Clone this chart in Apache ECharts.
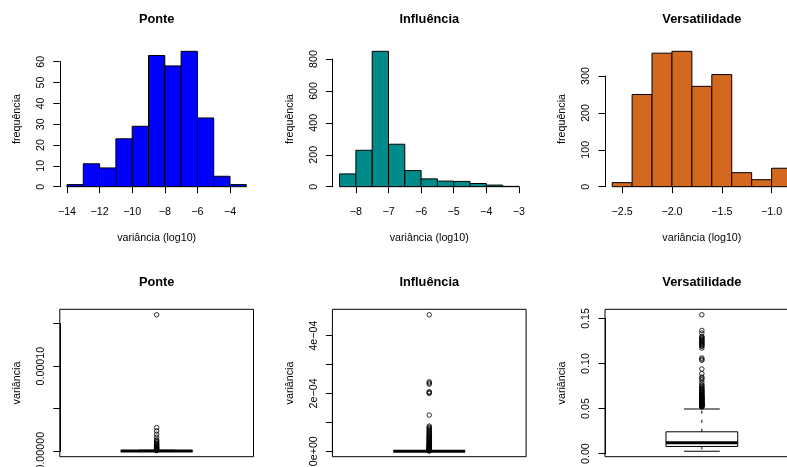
<!DOCTYPE html>
<html>
<head>
<meta charset="utf-8">
<title>Variância</title>
<script src="https://cdn.jsdelivr.net/npm/echarts@6/dist/echarts.min.js"></script>
<style>
  html, body { margin: 0; padding: 0; background: #fff; }
  #chart { width: 787px; height: 467px; }
</style>
</head>
<body>
<div id="chart"></div>
<script>
const FONT = '"Liberation Sans", Arial, Helvetica, sans-serif'

// histogramas do log10 da variância
const ponteBreaks = [-14, -13, -12, -11, -10, -9, -8, -7, -6, -5, -4, -3]
const ponteCounts = [1, 11, 9, 23, 29, 63, 58, 65, 33, 5, 1]
const influenciaBreaks = [-8.5, -8, -7.5, -7, -6.5, -6, -5.5, -5, -4.5, -4, -3.5, -3]
const influenciaCounts = [80, 228, 848, 266, 101, 49, 35, 33, 20, 10, 2]
const versatilidadeBreaks = [-2.6, -2.4, -2.2, -2.0, -1.8, -1.6, -1.4, -1.2, -1.0, -0.8]
const versatilidadeCounts = [11, 250, 362, 367, 272, 304, 38, 19, 50]

// ticks dos histogramas
const ponteXTicks = [-14, -12, -10, -8, -6, -4]
const ponteXLabels = ['−14', '−12', '−10', '−8', '−6', '−4']
const ponteYTicks = [0, 10, 20, 30, 40, 50, 60]
const ponteYLabels = ['0', '10', '20', '30', '40', '50', '60']
const influenciaXTicks = [-8, -7, -6, -5, -4, -3]
const influenciaXLabels = ['−8', '−7', '−6', '−5', '−4', '−3']
const influenciaYTicks = [0, 200, 400, 600, 800]
const influenciaYLabels = ['0', '200', '400', '600', '800']
const versatilidadeXTicks = [-2.5, -2.0, -1.5, -1.0]
const versatilidadeXLabels = ['−2.5', '−2.0', '−1.5', '−1.0']
const versatilidadeYTicks = [0, 100, 200, 300]
const versatilidadeYLabels = ['0', '100', '200', '300']

// boxplots: [min, q1, mediana, q3, max]
const ponteBox = [0, 0.0000001, 0.0000002, 0.0000005, 0.0000012]
const ponteOutliers = [0.0001604, 0.0000278, 0.0000238, 0.0000200, 0.0000165, 0.0000135, 0.0000122,
  0.0000110, 0.0000098, 0.0000087, 0.0000077, 0.0000068, 0.0000059, 0.0000051, 0.0000043,
  0.0000036, 0.0000029, 0.0000023, 0.0000017, 0.0000012, 0.0000008]
const ponteBoxTicks = [0, 0.00005, 0.0001, 0.00015]
const ponteBoxLabels = ['0.00000', '', '0.00010', '']

const influenciaBox = [0, 0.0000001, 0.0000003, 0.0000008, 0.0000019]
const influenciaOutliers = [0.000472, 0.000240, 0.000236, 0.000232, 0.000206, 0.000203, 0.000200,
  0.000125, 0.000087, 0.000083, 0.000080, 0.000076, 0.000073, 0.000069, 0.000066, 0.000063,
  0.000060, 0.000057, 0.000055, 0.000052, 0.000050, 0.000048, 0.000046, 0.000044, 0.000042,
  0.000040, 0.000038, 0.000036, 0.000034, 0.000032, 0.000030, 0.000028, 0.000027, 0.000025,
  0.000024, 0.000022, 0.000021, 0.000019, 0.000018, 0.000016, 0.000015, 0.000013, 0.000012,
  0.000011, 0.000010, 0.000009, 0.000008, 0.000007, 0.000006, 0.000005, 0.000004, 0.000003,
  0.000002, 0.000001]
const influenciaBoxTicks = [0, 0.0001, 0.0002, 0.0003, 0.0004]
const influenciaBoxLabels = ['0e+00', '', '2e−04', '', '4e−04']

const versatilidadeBox = [0.0026, 0.0079, 0.0119, 0.0242, 0.0495]
const versatilidadeOutliers = [0.1541, 0.1367, 0.1338, 0.1301, 0.1292, 0.1282, 0.1273, 0.1264,
  0.1255, 0.1245, 0.1236, 0.1227, 0.1218, 0.1208, 0.1199, 0.1190, 0.1171, 0.1061, 0.1048,
  0.1035, 0.0939, 0.0887, 0.0850, 0.0835, 0.0820, 0.0791, 0.0765, 0.0752, 0.0739, 0.0730,
  0.0720, 0.0710, 0.0700, 0.0692, 0.0685, 0.0678, 0.0670, 0.0662, 0.0655, 0.0648, 0.0640,
  0.0635, 0.0630, 0.0625, 0.0620, 0.0615, 0.0610, 0.0605, 0.0600, 0.0595, 0.0590, 0.0585,
  0.0580, 0.0575, 0.0570, 0.0566, 0.0562, 0.0558, 0.0555, 0.0551, 0.0548, 0.0544, 0.0540,
  0.0536, 0.0532, 0.0528, 0.0525, 0.0521, 0.0518]
const versatilidadeBoxTicks = [0, 0.05, 0.10, 0.15]
const versatilidadeBoxLabels = ['0.00', '0.05', '0.10', '0.15']

// layout (regiões de plot, px)
const COLS = [59.8, 332.4, 605.0]
const PLOT_W = 193.7
const TOP_ROW = { top: 45.9, height: 146.2, titleTop: 13 }
const BOTTOM_ROW = { top: 309.3, height: 147.4, titleTop: 276 }
const BASE_SIZE = 10.7
const TITLE_SIZE = 12.8

const grid = []
const xAxis = []
const yAxis = []
const series = []
const title = []

const textStyle = { color: '#000', fontSize: BASE_SIZE, fontFamily: FONT }

function labelFor (ticks, labels) {
  return function (v) {
    const step = ticks.length > 1 ? Math.abs(ticks[1] - ticks[0]) : 1
    const i = ticks.findIndex(t => Math.abs(t - v) < step * 1e-6)
    return i < 0 ? '' : labels[i]
  }
}

function hiddenAxis (gridIndex, min, max, extra) {
  return Object.assign({
    gridIndex,
    type: 'value',
    min,
    max,
    axisLine: { show: false },
    axisTick: { show: false },
    axisLabel: { show: false },
    splitLine: { show: false }
  }, extra)
}

function shownAxis (gridIndex, ticks, labels, extra, labelExtra) {
  return Object.assign({
    gridIndex,
    type: 'value',
    min: ticks[0],
    max: ticks[ticks.length - 1],
    interval: ticks[1] - ticks[0],
    axisLine: { show: true, lineStyle: { color: '#000', width: 1 } },
    axisTick: { show: true, length: 6.5, lineStyle: { color: '#000', width: 1 } },
    axisLabel: Object.assign({
      show: true,
      showMinLabel: true,
      showMaxLabel: true,
      formatter: labelFor(ticks, labels)
    }, textStyle, labelExtra),
    splitLine: { show: false }
  }, extra)
}

function addTitle (text, col, row) {
  title.push({
    text,
    left: COLS[col] + PLOT_W / 2,
    top: row.titleTop,
    textAlign: 'center',
    padding: 0,
    textStyle: { color: '#000', fontSize: TITLE_SIZE, fontWeight: 'bold', fontFamily: FONT }
  })
}

function histPanel (col, name, breaks, counts, color, xTicks, xLabels, yTicks, yLabels) {
  const row = TOP_ROW
  const left = COLS[col]
  const bottom = row.top + row.height
  const xr = breaks[breaks.length - 1] - breaks[0]
  const xMin = breaks[0] - 0.04 * xr
  const xMax = breaks[breaks.length - 1] + 0.04 * xr
  const yMaxData = Math.max(...counts)
  const yMin = -0.04 * yMaxData
  const yMax = yMaxData * 1.04
  const px = v => left + (v - xMin) / (xMax - xMin) * PLOT_W
  const py = v => row.top + (yMax - v) / (yMax - yMin) * row.height

  const gA = grid.length
  grid.push({ left, top: row.top, width: PLOT_W, height: row.height, containLabel: false, outerBoundsMode: 'none' })
  const x0 = px(xTicks[0])
  const x1 = px(xTicks[xTicks.length - 1])
  const yTop = py(yTicks[yTicks.length - 1])
  const yZero = py(0)
  grid.push({ left: x0, top: yTop, width: x1 - x0, height: yZero - yTop, containLabel: false, outerBoundsMode: 'none' })

  xAxis.push(hiddenAxis(gA, xMin, xMax, {
    name: 'variância (log10)', nameLocation: 'middle', nameGap: 40, nameTextStyle: textStyle
  }))
  yAxis.push(hiddenAxis(gA, yMin, yMax, {
    name: 'frequência', nameLocation: 'middle', nameGap: 37, nameRotate: 90, nameTextStyle: textStyle
  }))
  xAxis.push(shownAxis(gA + 1, xTicks, xLabels, { position: 'bottom', offset: bottom - yZero }, { margin: 14 }))
  yAxis.push(shownAxis(gA + 1, yTicks, yLabels, { position: 'left', offset: x0 - left }, { margin: 13, rotate: 90 }))

  const data = counts.map((c, i) => [breaks[i], breaks[i + 1], c])
  series.push({
    type: 'custom',
    name,
    xAxisIndex: gA,
    yAxisIndex: gA,
    data,
    encode: { x: [0, 1], y: 2 },
    clip: false,
    silent: true,
    renderItem (params, api) {
      const p0 = api.coord([api.value(0), api.value(2)])
      const p1 = api.coord([api.value(1), 0])
      return {
        type: 'rect',
        shape: { x: p0[0], y: p0[1], width: p1[0] - p0[0], height: p1[1] - p0[1] },
        style: { fill: color, stroke: '#000', lineWidth: 1 }
      }
    }
  })
  addTitle(name, col, row)
}

function boxPanel (col, name, stats, outliers, ticks, labels) {
  const row = BOTTOM_ROW
  const left = COLS[col]
  const all = stats.concat(outliers)
  const lo = Math.min(...all)
  const hi = Math.max(...all)
  const yMin = lo - 0.04 * (hi - lo)
  const yMax = hi + 0.04 * (hi - lo)
  const py = v => row.top + (yMax - v) / (yMax - yMin) * row.height

  const gA = grid.length
  grid.push({
    left, top: row.top, width: PLOT_W, height: row.height, containLabel: false, outerBoundsMode: 'none',
    show: true, borderColor: '#000', borderWidth: 1, backgroundColor: 'transparent'
  })
  const yTop = py(ticks[ticks.length - 1])
  const yZero = py(ticks[0])
  grid.push({ left, top: yTop, width: PLOT_W, height: yZero - yTop, containLabel: false, outerBoundsMode: 'none' })

  xAxis.push(hiddenAxis(gA, 0.46, 1.54))
  yAxis.push(hiddenAxis(gA, yMin, yMax, {
    name: 'variância', nameLocation: 'middle', nameGap: 37, nameRotate: 90, nameTextStyle: textStyle
  }))
  xAxis.push(hiddenAxis(gA + 1, 0.46, 1.54, { show: false }))
  yAxis.push(shownAxis(gA + 1, ticks, labels, { position: 'left' }, { margin: 13, rotate: 90 }))

  series.push({
    type: 'custom',
    name,
    xAxisIndex: gA,
    yAxisIndex: gA,
    data: [[1].concat(stats)],
    encode: { x: 0, y: [1, 2, 3, 4, 5] },
    clip: false,
    silent: true,
    renderItem (params, api) {
      const x = api.value(0)
      const v = [1, 2, 3, 4, 5].map(i => api.value(i))
      const pt = (dx, val) => api.coord([x + dx, val])
      const line = (a, b, extra) => ({
        type: 'line',
        shape: { x1: a[0], y1: a[1], x2: b[0], y2: b[1] },
        style: Object.assign({ stroke: '#000', lineWidth: 1 }, extra)
      })
      const tl = pt(-0.2, v[3])
      const br = pt(0.2, v[1])
      return {
        type: 'group',
        children: [
          line(pt(0, v[3]), pt(0, v[4]), { lineDash: [3, 6] }),
          line(pt(0, v[1]), pt(0, v[0]), { lineDash: [3, 6] }),
          line(pt(-0.1, v[4]), pt(0.1, v[4])),
          line(pt(-0.1, v[0]), pt(0.1, v[0])),
          {
            type: 'rect',
            shape: { x: tl[0], y: tl[1], width: br[0] - tl[0], height: br[1] - tl[1] },
            style: { fill: '#fff', stroke: '#000', lineWidth: 1 }
          },
          line(pt(-0.2, v[2]), pt(0.2, v[2]), { lineWidth: 3 })
        ]
      }
    }
  })
  series.push({
    type: 'scatter',
    name: name + ' outliers',
    xAxisIndex: gA,
    yAxisIndex: gA,
    data: outliers.map(o => [1, o]),
    symbol: 'circle',
    symbolSize: 4.5,
    itemStyle: { color: 'rgba(0,0,0,0)', borderColor: '#000', borderWidth: 1 },
    silent: true
  })
  addTitle(name, col, row)
}

histPanel(0, 'Ponte', ponteBreaks, ponteCounts, '#0000FF', ponteXTicks, ponteXLabels, ponteYTicks, ponteYLabels)
histPanel(1, 'Influência', influenciaBreaks, influenciaCounts, '#008B8B', influenciaXTicks, influenciaXLabels, influenciaYTicks, influenciaYLabels)
histPanel(2, 'Versatilidade', versatilidadeBreaks, versatilidadeCounts, '#D2691E', versatilidadeXTicks, versatilidadeXLabels, versatilidadeYTicks, versatilidadeYLabels)
boxPanel(0, 'Ponte', ponteBox, ponteOutliers, ponteBoxTicks, ponteBoxLabels)
boxPanel(1, 'Influência', influenciaBox, influenciaOutliers, influenciaBoxTicks, influenciaBoxLabels)
boxPanel(2, 'Versatilidade', versatilidadeBox, versatilidadeOutliers, versatilidadeBoxTicks, versatilidadeBoxLabels)

const chart = echarts.init(document.getElementById('chart'), null, { renderer: 'canvas' })
chart.setOption({
  backgroundColor: '#fff',
  animation: false,
  title,
  grid,
  xAxis,
  yAxis,
  series
})
</script>
</body>
</html>
